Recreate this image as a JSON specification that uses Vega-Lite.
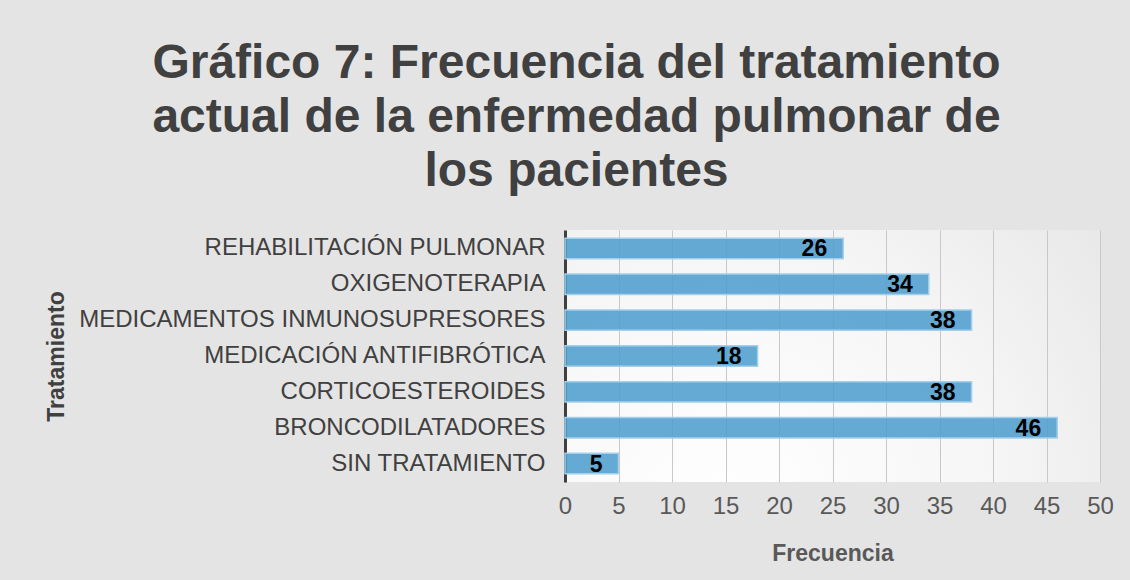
{
  "$schema": "https://vega.github.io/schema/vega-lite/v6.json",
  "width": 535,
  "height": 252,
  "autosize": {"type": "none"},
  "padding": {"left": 565, "top": 230, "right": 30, "bottom": 98},
  "background": "#e4e4e4",
  "title": {
    "text": ["Gráfico 7: Frecuencia del tratamiento", "actual de la enfermedad pulmonar de", "los pacientes"],
    "fontSize": 48,
    "fontWeight": "bold",
    "color": "#404040",
    "lineHeight": 54,
    "anchor": "middle",
    "frame": "group",
    "dx": -256,
    "offset": 34
  },
  "data": {
    "values": [
      {"tratamiento": "REHABILITACIÓN PULMONAR", "frecuencia": 26},
      {"tratamiento": "OXIGENOTERAPIA", "frecuencia": 34},
      {"tratamiento": "MEDICAMENTOS INMUNOSUPRESORES", "frecuencia": 38},
      {"tratamiento": "MEDICACIÓN ANTIFIBRÓTICA", "frecuencia": 18},
      {"tratamiento": "CORTICOESTEROIDES", "frecuencia": 38},
      {"tratamiento": "BRONCODILATADORES", "frecuencia": 46},
      {"tratamiento": "SIN TRATAMIENTO", "frecuencia": 5}
    ]
  },
  "encoding": {
    "y": {
      "field": "tratamiento",
      "type": "nominal",
      "sort": null,
      "title": "Tratamiento",
      "scale": {"paddingInner": 0.43, "paddingOuter": 0.23},
      "axis": {
        "domainColor": "#404040",
        "domainWidth": 3,
        "ticks": false,
        "grid": false,
        "labelFontSize": 24,
        "labelColor": "#404040",
        "labelPadding": 20,
        "labelLimit": 600,
        "titleFontSize": 23,
        "titleFontWeight": "bold",
        "titleColor": "#404040",
        "titleX": -497
      }
    },
    "x": {
      "field": "frecuencia",
      "type": "quantitative",
      "title": "Frecuencia",
      "scale": {"domain": [0, 50], "nice": false},
      "axis": {
        "values": [0, 5, 10, 15, 20, 25, 30, 35, 40, 45, 50],
        "domain": false,
        "ticks": false,
        "grid": true,
        "gridColor": "#c8c8c8",
        "gridWidth": 1,
        "labelFlush": false,
        "labelOverlap": false,
        "labelFontSize": 24,
        "labelColor": "#595959",
        "labelPadding": 12,
        "titleFontSize": 23,
        "titleFontWeight": "bold",
        "titleColor": "#595959",
        "titlePadding": 24
      }
    }
  },
  "layer": [
    {
      "mark": {"type": "bar", "fill": "#4E9ECE", "fillOpacity": 0.88, "stroke": "#A3CFEA", "strokeWidth": 1.5}
    },
    {
      "mark": {"type": "text", "align": "right", "baseline": "middle", "dx": -16, "dy": 1, "fontWeight": "bold", "fontSize": 23, "color": "#000000"},
      "encoding": {"text": {"field": "frecuencia", "type": "quantitative"}}
    }
  ],
  "config": {
    "font": "Liberation Sans",
    "view": {
      "stroke": null,
      "fill": {
        "gradient": "radial",
        "x1": 0.3, "y1": 0.8, "r1": 0,
        "x2": 0.3, "y2": 0.8, "r2": 1.0,
        "stops": [
          {"offset": 0, "color": "#ffffff"},
          {"offset": 0.5, "color": "#f6f6f6"},
          {"offset": 1, "color": "#e4e4e4"}
        ]
      }
    }
  }
}
